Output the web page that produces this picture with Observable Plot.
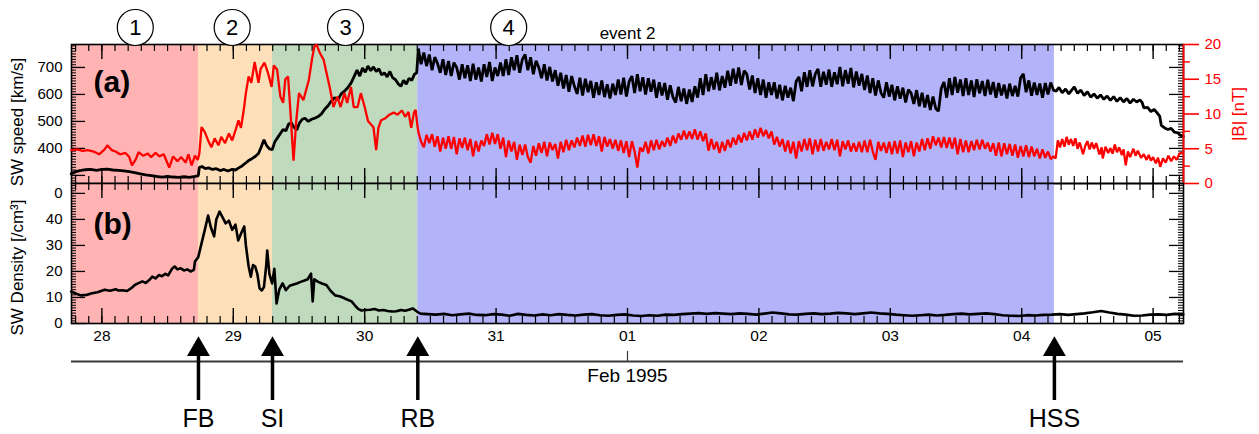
<!DOCTYPE html>
<html><head><meta charset="utf-8">
<script src="https://cdn.jsdelivr.net/npm/d3@7"></script>
<script src="https://cdn.jsdelivr.net/npm/@observablehq/plot@0.6"></script>
<style>
html,body{margin:0;padding:0;background:#fff;overflow:hidden}
#chart{position:relative;width:1259px;height:434px;overflow:hidden}
#chart svg{position:absolute;left:0;top:0}
</style></head><body><div id="chart"></div>
<script>
// time axis: hours since 1995-01-28 00:00 UT
const T0 = Date.UTC(1995, 0, 28);
const hoursToDate = h => new Date(T0 + h * 3600000);

const titleText = "event 2";
const monthLabel = "Feb 1995";
const speedLabel = "SW speed [km/s]";
const densityLabel = "SW Density [/cm³]";
const bLabel = "|B| [nT]";

const regionNames = ["1", "2", "3", "4"];
const regionStartHours = [-5.55, 17.64, 31.16, 57.7];
const regionEndHours = [17.64, 31.16, 57.7, 173.97];
const circleHours = [6.1, 23.8, 44.5, 74.3];
const eventNames = ["FB", "SI", "RB", "HSS"];
const eventHours = [17.64, 31.16, 57.7, 173.97];

const speedTicks = [400, 500, 600, 700];
const densityTicks = [0, 10, 20, 30, 40, 50];
const bTicks = [0, 5, 10, 15, 20];
const bMinorTicks = [2.5, 7.5, 12.5, 17.5];

// SW speed [km/s] : [hour, value] before region 4
const speedEarly = [
[-5.6,306],[-4.8,314],[-4.0,318],[-3.0,321],[-2.0,322],[-1.0,319],[0.0,322],[1.0,323],[2.0,320],[3.0,319],[4.0,317],[5.0,314],[6.0,310],[7.0,306],[8.0,302],[9.0,299],[10.0,296],[11.0,294],[12.0,296],[13.0,294],[14.0,293],[15.0,295],[16.0,293],[17.0,296],[17.6,298],
[17.8,330],[18.3,333],[18.9,325],[19.5,328],[20.2,322],[20.9,325],[21.6,318],[22.3,322],[23.0,316],[23.7,322],[24.4,320],[25.0,328],[25.6,335],[26.2,345],[26.8,355],[27.4,362],[28.0,370],[28.6,381],[29.1,405],[29.6,432],[30.1,410],[30.6,398],[31.1,395],
[31.6,425],[32.1,440],[32.6,455],[33.1,470],[33.6,465],[34.1,490],[34.6,495],[35.1,478],[35.6,468],[36.1,495],[36.6,508],[37.1,512],[37.7,500],[38.3,508],[38.9,512],[39.5,518],[40.1,528],[40.7,545],[41.3,558],[41.9,575],[42.5,588],[43.1,580],[43.7,602],[44.3,612],[44.9,625],[45.5,642],[46.1,668],[46.6,690],[47.1,668],[47.6,698],[48.1,682],[48.6,705],[49.1,688],[49.6,702],[50.1,685],[50.6,695],[51.1,672],[51.6,680],[52.1,665],[52.6,685],[53.1,662],[53.6,655],[54.1,640],[54.6,630],[55.1,652],[55.6,638],[56.1,660],[56.6,652],[57.1,675],[57.5,680]
];
// SW speed in region 4: one value every 0.5 h from hour 57.8
const speedR4Start = 57.8, speedR4Step = 0.5;
const speedR4 = [
770,712,755,705,748,690,738,715,680,730,
672,724,668,718,700,655,712,660,708,650,
714,655,700,648,712,665,720,650,700,668,
718,668,730,672,738,690,745,680,730,748,
690,738,675,725,700,660,712,652,702,648,
690,632,680,622,672,610,668,630,602,662,
596,658,608,650,588,645,598,652,590,638,
585,640,598,655,600,662,592,648,668,605,
675,612,664,600,660,610,655,588,645,596,
642,580,634,590,570,628,575,622,565,618,
572,630,588,660,598,675,612,664,618,680,
615,668,625,688,632,695,640,700,635,688,
675,618,670,605,660,598,655,588,645,598,
645,585,636,578,632,588,625,575,648,665,
612,682,628,690,630,676,694,628,684,636,
692,628,682,638,702,630,690,640,698,626,
685,632,676,616,670,605,660,596,652,606,
588,645,592,636,578,630,584,625,570,618,
605,565,616,556,606,552,598,542,592,548,
538,622,646,588,660,598,665,606,655,594,
660,598,652,590,656,604,650,594,654,600,
646,588,642,596,636,585,640,594,632,592,
662,676,608,652,595,644,598,640,588,642,
600,644,616
];
const speedLate = [
[174.3,612],[174.8,626],[175.4,606],[176.0,620],[176.6,602],[177.2,618],[177.6,628],[178.2,604],[178.8,616],[179.4,596],[180.0,610],[180.6,590],[181.2,602],[181.8,586],[182.4,598],[183.0,582],[183.6,594],[184.2,578],[184.8,592],[185.4,574],[186.0,588],[186.6,572],[187.2,585],[187.8,568],[188.4,582],[189.0,572],[189.6,580],[190.0,570],[190.3,550],[191.0,552],[191.6,536],[192.2,545],[192.8,530],[193.2,520],[193.5,485],[194.1,476],[194.7,470],[195.3,474],[195.9,460],[196.5,458],[197.0,448],[197.5,445]
];

// |B| [nT] : [hour, value] before region 4
const bEarly = [
[-5.6,4.8],[-4.5,4.9],[-3.5,4.7],[-2.6,4.8],[-1.5,4.6],[-0.5,4.2],[0.5,4.9],[1.0,5.5],[1.8,4.8],[2.5,4.6],[3.3,4.2],[4.3,4.4],[5.0,3.8],[5.5,2.6],[6.2,3.5],[6.7,4.5],[7.5,4.0],[8.4,4.3],[9.0,3.8],[9.8,4.4],[10.5,3.9],[11.3,4.2],[12.3,2.3],[13.0,3.9],[13.8,3.2],[14.5,3.8],[15.3,3.0],[15.8,4.2],[16.4,2.6],[17.0,4.0],[17.5,3.4],[17.8,4.3],
[18.2,8.1],[18.8,7.4],[19.4,6.2],[20.0,5.2],[20.6,6.5],[21.3,5.5],[21.8,6.7],[22.5,5.8],[23.2,7.2],[23.8,6.2],[24.5,7.9],[24.95,9.1],[25.4,8.0],[25.9,10.5],[26.3,13.0],[26.8,15.4],[27.3,14.5],[27.9,17.5],[28.6,14.5],[29.0,16.5],[29.7,17.4],[30.3,16.0],[31.0,13.9],
[31.4,17.0],[32.0,16.4],[32.6,12.5],[33.1,11.6],[33.5,15.0],[34.0,15.4],[34.3,12.0],[35.0,3.3],[35.5,9.0],[36.0,13.0],[36.8,12.0],[37.8,14.9],[38.4,18.0],[38.8,19.7],[39.2,20.0],[39.8,18.8],[40.5,17.8],[41.0,16.0],[41.6,13.9],[42.3,11.0],[43.0,12.5],[43.6,11.0],[44.3,13.0],[44.8,11.6],[45.5,13.9],[46.0,11.0],[46.7,11.0],[47.3,13.0],[48.0,11.0],[48.6,9.0],[49.6,8.1],[50.1,4.8],[50.5,8.0],[51.0,9.1],[51.8,9.4],[52.5,9.9],[53.3,10.2],[54.0,9.9],[54.8,10.5],[55.4,9.6],[56.0,10.3],[56.5,8.0],[57.0,10.2],[57.3,10.6],[57.6,8.5]
];
// |B| in region 4: one value every 0.5 h from hour 57.8
const bR4Start = 57.8, bR4Step = 0.5;
const bR4 = [
7.4,6.0,5.2,7.0,5.8,7.1,5.3,6.8,4.6,6.6,
5.0,6.8,5.0,6.7,4.2,6.5,5.1,6.6,4.8,6.4,
3.9,6.1,4.6,6.2,5.4,7.1,5.6,7.3,5.7,7.1,
5.0,6.6,3.8,6.2,4.6,6.0,3.4,5.6,4.1,5.6,
3.8,3.0,5.4,4.0,5.8,4.4,6.0,3.9,5.9,4.8,
5.7,3.6,6.0,4.5,6.3,4.8,6.2,5.2,6.6,5.4,
6.9,5.3,7.0,5.5,7.1,5.4,6.8,4.6,6.7,5.3,
6.4,5.0,6.3,4.7,6.2,4.4,6.1,3.8,6.1,4.6,
2.3,5.2,4.6,6.0,4.3,6.2,4.8,6.3,4.9,6.1,
5.3,6.6,5.4,6.9,5.8,7.2,6.3,7.6,6.4,7.5,
6.4,7.8,6.3,7.5,6.1,7.2,4.7,6.4,4.9,6.0,
4.4,6.0,4.7,6.3,5.2,6.6,5.6,7.0,5.9,7.3,
6.2,7.5,6.3,7.8,6.6,8.0,6.8,7.7,6.5,7.5,
5.6,6.7,5.3,6.4,4.6,6.2,4.3,6.0,3.6,6.1,
4.6,6.4,4.8,6.5,4.2,6.3,4.6,6.4,4.7,6.0,
4.9,6.4,4.8,6.3,3.9,6.1,4.9,6.2,4.6,5.8,
4.6,6.0,4.5,6.2,4.5,6.3,4.6,3.4,6.0,4.7,
5.9,4.4,6.0,4.2,6.1,4.3,6.2,3.8,5.9,4.5,
6.1,3.9,5.9,4.6,6.4,4.8,6.5,5.0,6.8,5.5,
6.6,5.2,6.7,5.1,6.6,5.0,6.6,4.2,6.4,4.5,
6.2,4.5,6.1,4.8,6.3,4.9,6.3,5.0,5.9,4.6,
5.8,4.0,5.9,3.9,5.8,4.2,5.7,4.0,5.6,3.7,
5.4,3.9,5.5,3.8,5.3,3.9,5.0,3.6,4.9,3.7,
4.6,3.5,3.9
];
const bLate = [
[174.2,3.6],[174.6,6.2],[175.0,5.2],[175.4,6.4],[175.8,5.3],[176.2,6.7],[176.6,5.6],[177.0,6.4],[177.4,5.4],[177.8,6.5],[178.2,5.0],[178.6,5.9],[179.2,4.2],[179.6,5.4],[180.0,6.1],[180.4,4.9],[180.8,5.9],[181.2,5.0],[181.6,5.8],[182.2,4.2],[182.6,5.2],[182.8,3.6],[183.3,5.3],[183.8,4.4],[184.2,5.1],[184.6,4.3],[185.0,5.6],[185.4,4.5],[185.8,5.2],[186.3,4.1],[186.6,4.9],[187.0,2.6],[187.4,4.6],[187.8,3.8],[188.4,5.0],[188.8,4.0],[189.2,4.7],[189.8,3.7],[190.3,4.2],[190.8,3.4],[191.2,4.1],[191.6,3.3],[192.0,3.8],[192.5,2.9],[192.9,3.7],[193.3,2.4],[193.8,3.6],[194.3,3.0],[194.8,4.0],[195.3,3.2],[195.8,3.9],[196.3,3.4],[196.8,4.3],[197.5,4.5]
];

// SW density [/cm3] : [hour, value]
const densityData = [
[-5.6,12.3],[-4.8,11.5],[-3.8,10.8],[-2.8,11.0],[-1.8,11.6],[-0.8,12.0],[0.5,13.0],[1.5,12.6],[2.5,13.2],[3.0,12.7],[3.8,12.8],[4.6,12.5],[5.5,13.8],[6.0,14.8],[6.7,15.5],[7.4,16.2],[8.0,15.6],[8.8,17.0],[9.2,18.0],[9.8,17.3],[10.4,18.6],[11.0,18.2],[11.6,19.1],[12.1,18.5],[12.8,21.0],[13.3,21.9],[13.8,20.8],[14.4,21.2],[15.0,20.4],[15.6,20.8],[16.2,20.0],[16.8,20.6],[17.0,23.8],[17.6,25.5],
[18.2,30.8],[18.8,36.0],[19.4,41.5],[19.9,37.0],[20.5,33.5],[20.9,40.0],[21.5,43.0],[22.0,41.0],[22.6,38.5],[23.2,39.5],[23.8,36.0],[24.4,38.0],[24.9,31.9],[25.5,35.0],[26.0,37.3],[26.3,30.0],[26.8,22.0],[27.2,18.0],[27.6,22.5],[28.0,21.9],[28.4,19.0],[28.8,13.5],[29.2,12.7],[29.6,14.0],[30.0,22.0],[30.2,28.0],[30.6,19.0],[31.1,15.4],
[31.5,21.0],[31.9,7.7],[32.4,13.0],[33.0,15.4],[33.6,12.8],[34.3,14.5],[35.0,15.0],[35.6,15.4],[36.3,16.0],[37.0,16.5],[37.6,17.0],[38.2,19.2],[38.5,8.5],[38.8,17.0],[39.5,16.0],[40.2,15.4],[41.0,14.8],[41.8,12.5],[42.6,10.8],[43.4,10.5],[44.2,9.8],[45.0,9.0],[45.6,8.5],[46.2,7.0],[46.8,5.6],[47.4,5.0],[48.2,5.2],[49.0,5.3],[49.8,5.6],[50.6,5.0],[51.4,5.2],[52.2,4.8],[53.0,4.6],[53.8,4.7],[54.6,5.2],[55.4,4.9],[56.2,5.4],[56.8,5.8],[57.6,4.5],
[58.2,3.8],[59.5,3.6],[61,3.4],[62.5,3.7],[64,3.2],[65.5,3.5],[67,3.8],[68.5,3.3],[70,3.2],[71.5,3.6],[73,3.4],[74.5,3.0],[76,3.7],[77.5,3.3],[79,3.1],[80.5,3.5],[82,3.2],[83.5,3.6],[85,3.3],[86.5,3.1],[88,3.4],[89.5,3.6],[91,3.2],[92.5,3.0],[94,3.3],[95.5,3.5],[97,3.1],[98.5,2.9],[100,3.2],[101.5,3.0],[103,3.4],[104.5,3.3],[106,3.6],[107.5,3.8],[109,4.0],[110.5,3.7],[112,4.0],[113.5,3.8],[115,3.6],[116.5,3.9],[118,3.7],[119.5,3.4],[121,3.8],[122.5,4.2],[124,3.9],[125.5,3.5],[127,3.4],[128.5,3.7],[130,3.9],[131.5,3.6],[133,3.8],[134.5,4.1],[136,3.9],[137.5,3.6],[139,3.9],[140.5,4.2],[142,3.9],[143.5,3.7],[145,3.4],[146.5,3.2],[148,3.0],[149.5,3.2],[151,3.4],[152.5,3.1],[154,3.3],[155.5,3.6],[157,3.8],[158.5,3.5],[160,3.7],[161.5,3.9],[163,3.6],[164.5,3.2],[166,3.0],[167.5,2.9],[169,3.2],[170.5,3.1],[172,3.3],[173.5,3.4],[175,3.6],[176.5,3.3],[178,3.6],[179.5,3.9],[181,4.3],[182.5,4.8],[184,4.2],[185.5,3.7],[187,3.4],[188.5,3.0],[190,3.1],[191.5,3.4],[193,3.5],[194.5,3.3],[196,3.7],[197.5,3.5]
];

// ---------- assemble series ----------
const speedData = speedEarly.concat(speedR4.map((v, i) => [speedR4Start + i * speedR4Step, v]), speedLate);
const bData = bEarly.concat(bR4.map((v, i) => [bR4Start + i * bR4Step, v]), bLate);

// ---------- layout & styles ----------
const W = 1259, H = 434, ML = 71, MR = 76;
const PW = W - ML - MR;
const font = '"Liberation Sans", Arial, Helvetica, sans-serif';
const regionFill = ["#ffb3b3", "#fde0b9", "#bfdabc", "#b3b3fa"];
const xDomain = [hoursToDate(-5.55), hoursToDate(197.55)];
const regions = regionNames.map((n, i) => ({x1: hoursToDate(regionStartHours[i]), x2: hoursToDate(regionEndHours[i]), fill: regionFill[i]}));
const circles = regionNames.map((n, i) => ({x: hoursToDate(circleHours[i]), label: n}));
const events = eventNames.map((n, i) => ({x: hoursToDate(eventHours[i]), name: n}));
const dayTicks = d3.utcDay.range(xDomain[0], xDomain[1]);
const minorTimeTicks = d3.range(-2, 83).map(k => hoursToDate(k * 2.4));
const feb1 = [new Date(Date.UTC(1995, 1, 1))];
const base = {width: W, height: H, marginLeft: ML, marginRight: MR,
  style: {background: "none", fontFamily: font, fontSize: "15px", overflow: "visible", color: "black"}};
const xy = {x: d => hoursToDate(d[0]), y: d => d[1]};
const mid = {textAnchor: "middle", lineAnchor: "middle"};

function timeTicks(ph) {
  return [
    Plot.tickX(minorTimeTicks, {x: d => d, insetBottom: ph - 7, stroke: "black", strokeWidth: 1.2}),
    Plot.tickX(dayTicks, {x: d => d, insetBottom: ph - 15, stroke: "black", strokeWidth: 1.4}),
    Plot.tickX(minorTimeTicks, {x: d => d, insetTop: ph - 7, stroke: "black", strokeWidth: 1.2}),
    Plot.tickX(dayTicks, {x: d => d, insetTop: ph - 15, stroke: "black", strokeWidth: 1.4})
  ];
}
function valueTicks(minor, major) {
  return [
    Plot.tickY(minor, {y: d => d, insetRight: PW - 5, stroke: "black", strokeWidth: 1}),
    Plot.tickY(major, {y: d => d, insetRight: PW - 14, stroke: "black", strokeWidth: 1.3}),
    Plot.tickY(minor, {y: d => d, insetLeft: PW - 5, stroke: "black", strokeWidth: 1}),
    Plot.tickY(major, {y: d => d, insetLeft: PW - 14, stroke: "black", strokeWidth: 1.3})
  ];
}

// ---------- panel (a): speed ----------
const pa = Plot.plot({...base, marginTop: 44, marginBottom: H - 183,
  x: {type: "utc", domain: xDomain, axis: null},
  y: {domain: [270, 785], axis: null},
  color: {type: "identity"},
  marks: [
    Plot.rect(regions, {x1: "x1", x2: "x2", fill: "fill"}),
    ...timeTicks(139),
    ...valueTicks(d3.range(280, 785, 10), d3.range(300, 785, 100)),
    Plot.line(speedData, {...xy, stroke: "black", strokeWidth: 2.8, strokeLinejoin: "miter"}),
    Plot.frame({stroke: "black", strokeWidth: 1.6}),
    Plot.axisY(speedTicks, {anchor: "left", tickSize: 0, tickPadding: 9, label: null, fontSize: 15}),
    Plot.text([titleText], {...mid, text: d => d, frameAnchor: "top", dy: -11, fontSize: 17}),
    Plot.dot(circles, {x: "x", frameAnchor: "top", dy: -17, r: 18, stroke: "black", fill: "white", strokeWidth: 1.2}),
    Plot.text(circles, {...mid, x: "x", text: "label", frameAnchor: "top", dy: -17, fontSize: 22}),
    Plot.text(["(a)"], {text: d => d, frameAnchor: "top-left", dx: 22, dy: 38, textAnchor: "start", lineAnchor: "middle", fontSize: 30, fontWeight: "bold"}),
    Plot.text([speedLabel], {...mid, text: d => d, frameAnchor: "left", dx: -54, dy: 8, rotate: -90, fontSize: 17})
  ]});

// ---------- panel (a): |B| ----------
const pb = Plot.plot({...base, marginTop: 44, marginBottom: H - 183,
  x: {type: "utc", domain: xDomain, axis: null},
  y: {domain: [0, 20], axis: null},
  marks: [
    Plot.line(bData, {...xy, stroke: "#ff0000", strokeWidth: 2.3, strokeLinejoin: "miter"}),
    Plot.ruleX([xDomain[1]], {x: d => d, stroke: "#ff0000", strokeWidth: 1.8}),
    Plot.axisY(bTicks, {anchor: "right", tickSize: 15, tickPadding: 6, color: "#ff0000", strokeWidth: 1.6, label: null, fontSize: 15}),
    Plot.tickY(bMinorTicks, {y: d => d, insetLeft: PW, insetRight: -7, stroke: "#ff0000", strokeWidth: 1.4}),
    Plot.text([bLabel], {...mid, text: d => d, frameAnchor: "right", dx: 55, rotate: -90, fill: "#ff0000", fontSize: 17})
  ]});

// ---------- panel (b): density ----------
const pc = Plot.plot({...base, marginTop: 183, marginBottom: H - 323,
  x: {type: "utc", domain: xDomain},
  y: {domain: [0, 53.8], axis: null},
  color: {type: "identity"},
  marks: [
    Plot.rect(regions, {x1: "x1", x2: "x2", fill: "fill"}),
    ...timeTicks(140),
    ...valueTicks(d3.range(1, 54, 1), d3.range(0, 54, 10)),
    Plot.line(densityData, {...xy, stroke: "black", strokeWidth: 2.6}),
    Plot.frame({stroke: "black", strokeWidth: 1.6}),
    Plot.axisY(densityTicks, {anchor: "left", tickSize: 0, tickPadding: 9, label: null, fontSize: 15, tickFormat: d => d === 50 ? "0" : String(d)}),
    Plot.axisX(dayTicks, {anchor: "bottom", tickSize: 0, tickPadding: 6, label: null, fontSize: 15.5, tickFormat: d3.utcFormat("%d")}),
    Plot.text(["(b)"], {text: d => d, frameAnchor: "top-left", dx: 22, dy: 41, textAnchor: "start", lineAnchor: "middle", fontSize: 30, fontWeight: "bold"}),
    Plot.text([densityLabel], {...mid, text: d => d, frameAnchor: "left", dx: -54, dy: 14, rotate: -90, fontSize: 17})
  ]});

// ---------- month axis ----------
const pd = Plot.plot({...base, marginTop: 323, marginBottom: H - 361,
  x: {type: "utc", domain: xDomain},
  y: {domain: [0, 1], axis: null},
  marks: [
    Plot.ruleY([0], {y: d => d, stroke: "#3a3a3a", strokeWidth: 2}),
    Plot.tickX(feb1, {x: d => d, insetTop: 38 - 10, stroke: "#3a3a3a", strokeWidth: 1.2}),
    Plot.axisX(feb1, {anchor: "bottom", tickSize: 0, tickPadding: 7, label: null, fontSize: 19, tickFormat: () => monthLabel})
  ]});

// ---------- event arrows ----------
const pe = Plot.plot({...base, marginTop: 323, marginBottom: 0,
  x: {type: "utc", domain: xDomain, axis: null},
  marks: [
    Plot.ruleX(events, {x: "x", insetTop: 32, insetBottom: 34, stroke: "black", strokeWidth: 3.5}),
    Plot.dot(events, {x: "x", frameAnchor: "top", dy: 26, r: 8.5, symbol: "triangle", fill: "black", stroke: "none"}),
    Plot.text(events, {...mid, x: "x", text: "name", frameAnchor: "top", dy: 95, fontSize: 25})
  ]});

const chart = document.getElementById("chart");
[pa, pb, pc, pd, pe].forEach(p => chart.appendChild(p));
</script>
</body></html>
